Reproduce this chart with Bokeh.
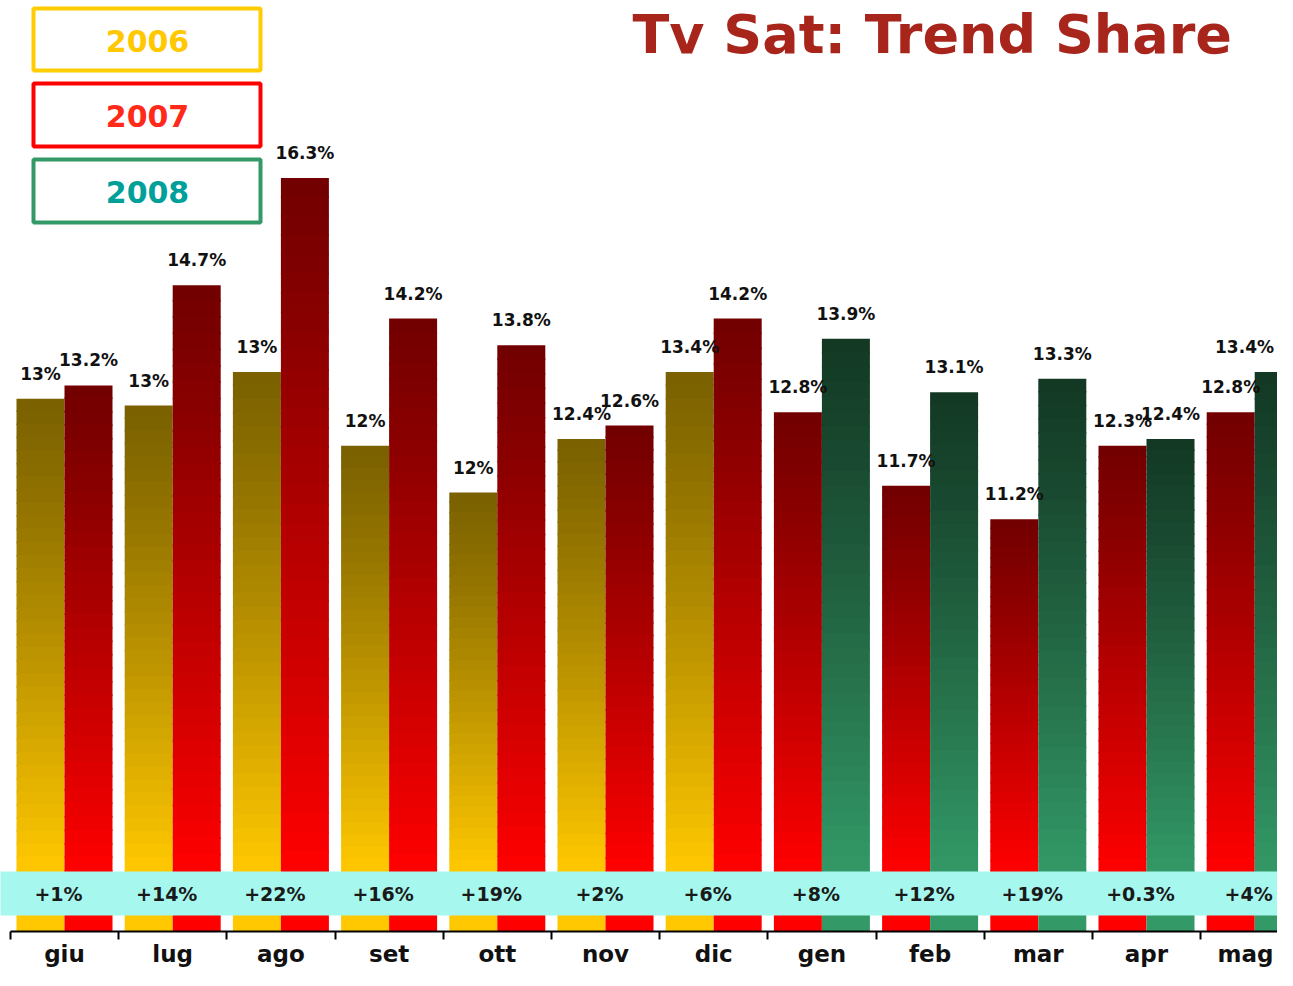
from bokeh.plotting import figure
from bokeh.models import ColumnDataSource, FixedTicker, Range1d
from bokeh.core.properties import value
from bokeh.embed import file_html
from bokeh.resources import INLINE

# ---------------- data ----------------
months = ["giu", "lug", "ago", "set", "ott", "nov", "dic",
          "gen", "feb", "mar", "apr", "mag"]
# left bar of each month (previous year)
prev_vals = [13.0, 12.9, 13.4, 12.3, 11.6, 12.4, 13.4, 12.8, 11.7, 11.2, 12.3, 12.8]
prev_labels = ["13%", "13%", "13%", "12%", "12%", "12.4%", "13.4%",
               "12.8%", "11.7%", "11.2%", "12.3%", "12.8%"]
prev_series = ["2006"] * 7 + ["2007"] * 5
# right bar of each month (current year)
curr_vals = [13.2, 14.7, 16.3, 14.2, 13.8, 12.6, 14.2, 13.9, 13.1, 13.3, 12.4, 13.4]
curr_labels = ["13.2%", "14.7%", "16.3%", "14.2%", "13.8%", "12.6%", "14.2%",
               "13.9%", "13.1%", "13.3%", "12.4%", "13.4%"]
curr_series = ["2007"] * 7 + ["2008"] * 5
growth = ["+1%", "+14%", "+22%", "+16%", "+19%", "+2%", "+6%",
          "+8%", "+12%", "+19%", "+0.3%", "+4%"]
legend_years = ["2006", "2007", "2008"]
title_text = "Tv Sat: Trend Share"

# ---------------- styles ----------------
GRAD = {  # top colour, bottom colour
    "2006": ((0x7a, 0x60, 0x00), (0xff, 0xc8, 0x00)),
    "2007": ((0x72, 0x00, 0x00), (0xff, 0x00, 0x00)),
    "2008": ((0x13, 0x38, 0x24), (0x33, 0x99, 0x66)),
}
LEG_LINE = ["#ffcc00", "#ff0000", "#339966"]
LEG_TEXT = ["#ffc800", "#ff2a1a", "#00a09a"]

W, H = 1277, 970
AXIS_Y = 931                      # canvas row of the axis line
BOTTOM_BORDER = H - AXIS_Y
PX_CAT = 108.2                    # px per month
PX_UNIT = 66.89                   # px per percentage point
CX0 = 64                          # canvas x of first month centre
BASE = 5.037                      # value at the axis line
Y_END = BASE + AXIS_Y / PX_UNIT
X_START = -CX0 / PX_CAT
X_END = (W - CX0) / PX_CAT
BAR_W = 48 / PX_CAT
BAND_BOT = 5.276
BAND_TOP = 5.934
OVERLAP = 1.5 / PX_UNIT
LABEL_HALF = 33 / PX_CAT          # half width of a value label (+ margin)
MONTH_HALF = 32 / PX_CAT          # half width of a month label (+ margin)


def xd(cx):
    return (cx - CX0) / PX_CAT


def yd(cy):
    return Y_END - cy / PX_UNIT


def mix(c0, c1, t):
    return "#%02x%02x%02x" % tuple(int(round(a + (b - a) * t)) for a, b in zip(c0, c1))


p = figure(width=W, height=H, x_range=Range1d(X_START, X_END), y_range=Range1d(BASE, Y_END),
           output_backend="svg", toolbar_location=None, y_axis_location=None,
           min_border_left=0, min_border_right=0, min_border_top=0,
           min_border_bottom=BOTTOM_BORDER, outline_line_color=None,
           background_fill_color="white", border_fill_color="white")
p.xgrid.visible = False
p.ygrid.visible = False

# ---------------- gradient bars ----------------
N = 36
seg = dict(left=[], right=[], top=[], bottom=[], color=[])


def add_bar(xc, v, series):
    c0, c1 = GRAD[series]
    span = v - BAND_TOP
    for k in range(N):
        top = v - span * k / N
        bot = v - span * (k + 1) / N
        t = (k + 0.5) / N
        seg["left"].append(xc - BAR_W / 2)
        seg["right"].append(xc + BAR_W / 2)
        seg["top"].append(top + (OVERLAP if k else 0))
        seg["bottom"].append(bot)
        seg["color"].append(mix(c0, c1, t ** 1.15))
    seg["left"].append(xc - BAR_W / 2)
    seg["right"].append(xc + BAR_W / 2)
    seg["top"].append(BAND_TOP + OVERLAP)
    seg["bottom"].append(BASE)
    seg["color"].append(mix(c0, c1, 1.0))


for i in range(len(months)):
    add_bar(i - BAR_W / 2, prev_vals[i], prev_series[i])
    add_bar(i + BAR_W / 2, curr_vals[i], curr_series[i])

p.quad(left="left", right="right", top="top", bottom="bottom", fill_color="color",
       line_color=None, source=ColumnDataSource(seg))

# ---------------- value labels ----------------
lab_x = [i - BAR_W / 2 for i in range(len(months))] + [i + BAR_W / 2 for i in range(len(months))]
lab_x = [min(x, X_END - LABEL_HALF) for x in lab_x]   # keep labels inside the frame
lab = ColumnDataSource(dict(x=lab_x, y=prev_vals + curr_vals, t=prev_labels + curr_labels))
p.text(x="x", y="y", text="t", source=lab, y_offset=-25, text_align="center",
       text_baseline="middle", text_font=value("DejaVu Sans"), text_font_style="bold",
       text_font_size="17px", text_color="#111111")

# ---------------- growth band ----------------
p.quad(left=[X_START - 1], right=[X_END + 1], top=[BAND_TOP], bottom=[BAND_BOT],
       fill_color="#a6f8ee", line_color=None)
p.text(x=list(range(len(months))), y=[(BAND_TOP + BAND_BOT) / 2] * len(months), text=growth,
       x_offset=-6, text_align="center", text_baseline="middle",
       text_font=value("DejaVu Sans"), text_font_style="bold", text_font_size="19px",
       text_color="#1a1a1a")

# ---------------- legend boxes ----------------
box_tops = [8, 83, 159]
box_bots = [70, 146, 222]
p.quad(left=[xd(33)] * 3, right=[xd(260)] * 3, top=[yd(t) for t in box_tops],
       bottom=[yd(b) for b in box_bots], fill_color="white", line_color=LEG_LINE,
       line_width=4)
p.text(x=[xd(147)] * 3, y=[yd((t + b) / 2 + 1) for t, b in zip(box_tops, box_bots)],
       text=legend_years, text_color=LEG_TEXT, text_align="center", text_baseline="middle",
       text_font=value("DejaVu Sans"), text_font_style="bold", text_font_size="30px")

# ---------------- title ----------------
p.text(x=[xd(632)], y=[yd(34)], text=[title_text], text_align="left",
       text_baseline="alphabetic", text_font=value("DejaVu Sans"), text_font_style="bold",
       text_font_size="54px", text_color="#a8251c")

# ---------------- axis ----------------
label_ticks = [min(float(i), X_END - MONTH_HALF) for i in range(len(months))]
ax = p.xaxis[0]
ax.ticker = FixedTicker(ticks=label_ticks,
                        minor_ticks=[i - 0.5 for i in range(len(months))])
ax.major_label_overrides = {t: m for t, m in zip(label_ticks, months)}
ax.bounds = (-0.5, X_END)
ax.axis_line_color = "black"
ax.axis_line_width = 2
ax.major_tick_out = 0
ax.major_tick_in = 0
ax.minor_tick_out = 8
ax.minor_tick_in = 0
ax.minor_tick_line_color = "black"
ax.minor_tick_line_width = 2
ax.major_label_standoff = 1
ax.major_label_text_font = "DejaVu Sans"
ax.major_label_text_font_style = "bold"
ax.major_label_text_font_size = "23px"
ax.major_label_text_color = "#111111"

open("out.html", "w").write(file_html(p, INLINE))
